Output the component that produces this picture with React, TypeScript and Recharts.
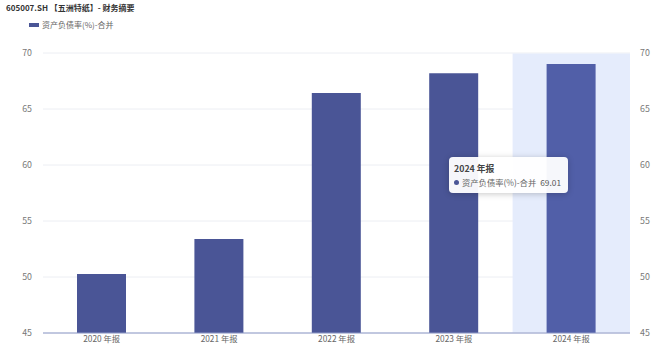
import React from "react"
import { BarChart, Bar, XAxis, YAxis, CartesianGrid, Tooltip, Cell } from "recharts"

const categories = ["2020 年报", "2021 年报", "2022 年报", "2023 年报", "2024 年报"]
const debtRatio = [50.27, 53.39, 66.43, 68.2, 69.01]
const yTicks = [45, 50, 55, 60, 65, 70]

const seriesName = "资产负债率(%)-合并"
const title = "605007.SH 【五洲特纸】- 财务摘要"
const activeIndex = 4

const data = categories.map((name, i) => ({ name, value: debtRatio[i] }))

const font = '"Noto Sans CJK SC", "Noto Sans", sans-serif'

function TipBox({ active, payload, label }: any) {
  if (!active || !payload || !payload.length) return null
  return (
    <div
      style={{
        background: "rgba(255,255,255,0.95)",
        borderRadius: 4,
        boxShadow: "0 1px 6px rgba(0,0,0,0.22)",
        padding: "5px 7px 5px 5px",
        boxSizing: "border-box",
        fontFamily: font,
        fontSize: 8.3,
        color: "#666",
        width: 119,
        height: 36,
        whiteSpace: "nowrap",
      }}
    >
      <div style={{ fontWeight: 700, fontSize: 8.8, color: "#444", lineHeight: "13px" }}>{label}</div>
      <div style={{ display: "flex", alignItems: "center", lineHeight: "14px" }}>
        <span
          style={{ width: 5, height: 5, borderRadius: 3, background: "#4a5596", marginRight: 3, display: "inline-block" }}
        />
        <span>{seriesName}</span>
        <span style={{ marginLeft: "auto", color: "#555" }}>{payload[0].value.toFixed(2)}</span>
      </div>
    </div>
  )
}

export default function App() {
  return (
    <div style={{ position: "fixed", left: 0, top: 0, width: 660, height: 347, background: "#fff", fontFamily: font }}>
      <div style={{ position: "absolute", left: 6, top: 2, fontSize: 8, lineHeight: "12px", fontWeight: 700, color: "#333", whiteSpace: "nowrap" }}>
        {title}
      </div>
      <div style={{ position: "absolute", left: 29, top: 19, display: "flex", alignItems: "center", fontSize: 8, lineHeight: "12px", color: "#666" }}>
        <span style={{ width: 10, height: 4, background: "#4a5596", marginRight: 3, display: "inline-block" }} />
        {seriesName}
      </div>
      <BarChart
        width={660}
        height={347}
        data={data}
        margin={{ top: 53, right: 0, left: 0, bottom: 0 }}
        barSize={49}
      >
        <CartesianGrid vertical={false} stroke="#eceef3" yAxisId="left" />
        <XAxis
          dataKey="name"
          axisLine={{ stroke: "#8d98c6" }}
          tickLine={false}
          tickSize={0}
          tickMargin={3}
          height={14}
          interval={0}
          tick={{ fontSize: 8.3, fill: "#666", fontFamily: font }}
        />
        <YAxis
          yAxisId="left"
          domain={[45, 70]}
          ticks={yTicks}
          allowDataOverflow
          width={43}
          axisLine={false}
          tickLine={false}
          tickMargin={5}
          tick={{ fontSize: 8.8, fill: "#777", fontFamily: font }}
        />
        <YAxis
          yAxisId="right"
          orientation="right"
          domain={[45, 70]}
          ticks={yTicks}
          allowDataOverflow
          width={30}
          axisLine={false}
          tickLine={false}
          tickMargin={4}
          tick={{ fontSize: 8.8, fill: "#777", fontFamily: font }}
        />
        <Tooltip
          active
          defaultIndex={activeIndex}
          position={{ x: 449, y: 157 }}
          cursor={{ fill: "#e5ecfc" }}
          content={<TipBox />}
          isAnimationActive={false}
        />
        <Bar yAxisId="left" dataKey="value" isAnimationActive={false}>
          {data.map((d, i) => (
            <Cell key={d.name} fill={i === activeIndex ? "#515fa8" : "#4a5596"} />
          ))}
        </Bar>
      </BarChart>
    </div>
  )
}
